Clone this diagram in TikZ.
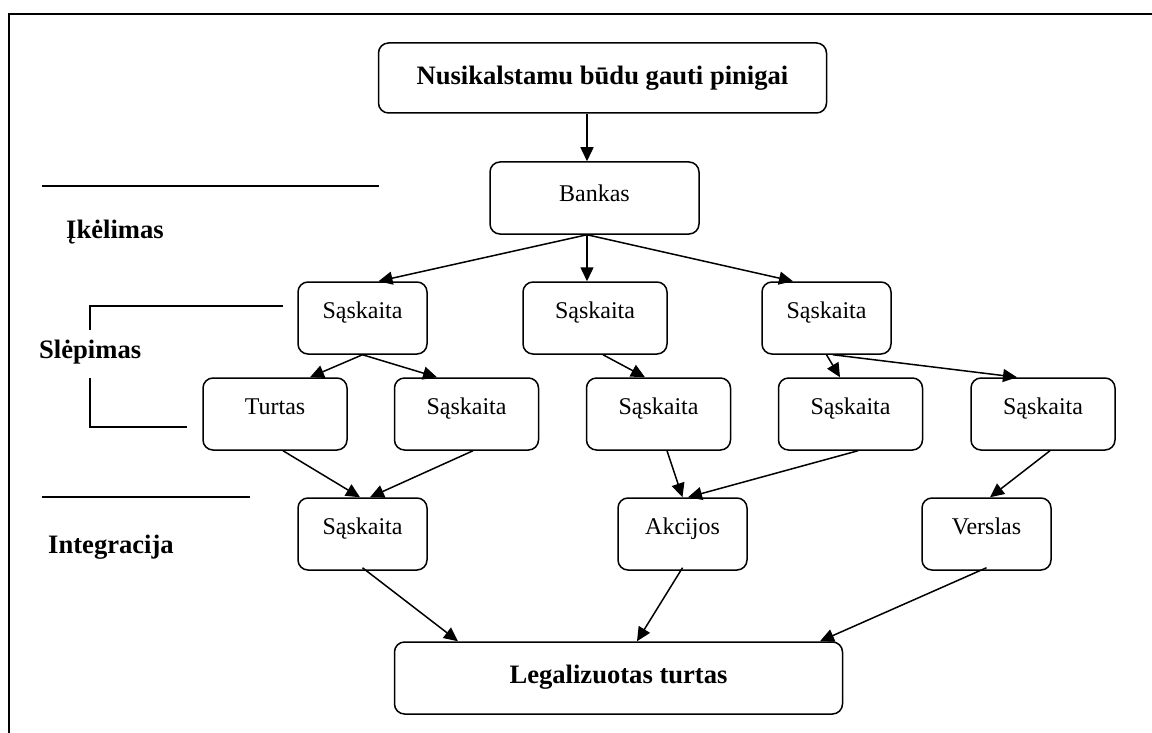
\documentclass[tikz,border=0pt]{standalone}
\usepackage{fontspec}
\setmainfont{Liberation Serif}
\usetikzlibrary{arrows.meta}

\begin{document}
\begin{tikzpicture}[x=1pt, y=-1pt,
    box/.style={draw, line width=1.5pt, rounded corners=10pt, inner xsep=0pt, inner ysep=0pt,
      minimum width=129pt, text height=36pt, text depth=36pt, font=\fontsize{24}{28}\selectfont},
    bigbox/.style={box, minimum width=448pt, font=\fontsize{26.6}{30}\selectfont\bfseries},
    phase/.style={anchor=base west, inner sep=0pt, font=\fontsize{26.6}{30}\selectfont\bfseries},
    arr/.style={-{Triangle[length=14pt, width=13pt]}, line width=1.5pt},
    rule/.style={line width=1.5pt}]
  \useasboundingbox (0,0) rectangle (1152,733);
  \draw[line width=2pt] (9,733) -- (9,14) -- (1152,14);

  % boxes
  \node[bigbox, text height=42pt, text depth=28pt] (source) at (602.5,78) {Nusikalstamu būdu gauti pinigai};
  \node[box, minimum width=209pt, text height=39pt, text depth=33pt] (bank) at (594.5,198) {Bankas};
  \node[box] (acc1) at (362.5,318) {Sąskaita};
  \node[box, minimum width=144pt] (acc2) at (595,318) {Sąskaita};
  \node[box] (acc3) at (826.5,318) {Sąskaita};
  \node[box, minimum width=144pt] (asset) at (275,414) {Turtas};
  \node[box, minimum width=144pt] (acc4) at (466.5,414) {Sąskaita};
  \node[box, minimum width=144pt] (acc5) at (658.5,414) {Sąskaita};
  \node[box, minimum width=144pt] (acc6) at (850.5,414) {Sąskaita};
  \node[box, minimum width=144pt] (acc7) at (1043,414) {Sąskaita};
  \node[box] (acc8) at (362.5,534) {Sąskaita};
  \node[box] (shares) at (682.5,534) {Akcijos};
  \node[box] (business) at (986.5,534) {Verslas};
  \node[bigbox, text height=41pt, text depth=31pt] (legal) at (618.5,678) {Legalizuotas turtas};

  % phases
  \node[phase] (load) at (66,238) {Įkėlimas};
  \node[phase] (hide) at (39,358) {Slėpimas};
  \node[phase] (integ) at (48,553) {Integracija};
  \draw[rule] (42,186) -- (379,186);
  \draw[rule] (283,306) -- (90,306) -- (90,330);
  \draw[rule] (90,378) -- (90,427) -- (187,427);
  \draw[rule] (42,497) -- (250,497);

  % arrows
  \draw[arr] ([xshift=-15.5pt]source.south) -- ([xshift=-7.5pt]bank.north);
  \draw[arr] ([xshift=-7.5pt]bank.south) -- ([xshift=16pt]acc1.north);
  \draw[arr] ([xshift=-7.5pt]bank.south) -- ([xshift=-8pt]acc2.north);
  \draw[arr] ([xshift=-7.5pt]bank.south) -- ([xshift=-33.5pt]acc3.north);
  \draw[arr] (acc1.south) -- ([xshift=35pt]asset.north);
  \draw[arr] (acc1.south) -- ([xshift=-29.5pt]acc4.north);
  \draw[arr] ([xshift=8pt]acc2.south) -- ([xshift=-13.5pt]acc5.north);
  \draw[arr] (acc3.south) -- ([xshift=-10.5pt]acc6.north);
  \draw[arr] ([xshift=6.5pt]acc3.south) -- ([xshift=-26pt]acc7.north);
  \draw[arr] ([xshift=8pt]asset.south) -- ([xshift=-2.5pt]acc8.north);
  \draw[arr] ([xshift=6.5pt]acc4.south) -- ([xshift=7.5pt]acc8.north);
  \draw[arr] ([xshift=8.5pt]acc5.south) -- (shares.north);
  \draw[arr] ([xshift=7.5pt]acc6.south) -- ([xshift=5.5pt]shares.north);
  \draw[arr] ([xshift=7pt]acc7.south) -- ([xshift=3.5pt]business.north);
  \draw[arr] ([yshift=3pt]acc8.south) -- ([xshift=-160.5pt]legal.north);
  \draw[arr] ([yshift=3pt]shares.south) -- ([xshift=18.5pt]legal.north);
  \draw[arr] ([yshift=3pt]business.south) -- ([xshift=201.5pt]legal.north);
\end{tikzpicture}
\end{document}
